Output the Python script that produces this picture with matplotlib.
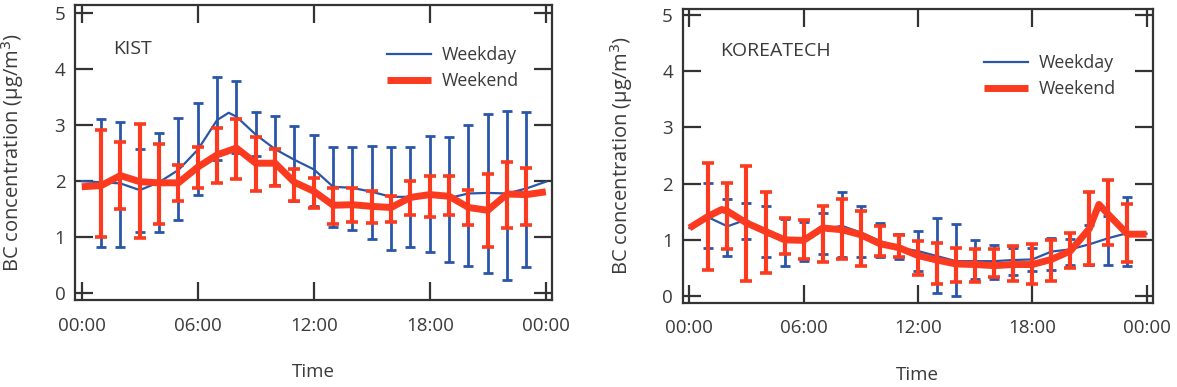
import numpy as np
import matplotlib
matplotlib.use('Agg')
import matplotlib.pyplot as plt

plt.rcParams['font.family'] = ['Open Sans', 'DejaVu Sans']
TXT = '#3a3a3a'
BLUE = '#2a56a8'
RED = '#fb3a1f'

tick_pos = [0, 6, 12, 18, 24]
tick_lab = ['00:00', '06:00', '12:00', '18:00', '00:00']
bar_hours = np.arange(1, 24)

# KIST
kist_wd_t = [0, 1, 2, 3, 4, 5, 6, 7, 7.6, 8, 9, 10, 11, 12, 13, 14, 15, 16, 17, 18, 19, 20, 21, 22, 23, 24]
kist_wd = [2.00, 1.98, 1.96, 1.84, 1.98, 2.20, 2.56, 3.09, 3.22, 3.15, 2.83, 2.57, 2.38, 2.21, 1.90,
           1.88, 1.81, 1.72, 1.72, 1.78, 1.70, 1.78, 1.79, 1.78, 1.87, 1.99]
kist_wd_lo = [0.83, 0.83, 1.09, 1.09, 1.30, 1.76, 2.37, 2.50, 2.45, 1.93, 1.65, 1.55, 1.18, 1.13, 0.96,
              0.77, 0.83, 0.74, 0.55, 0.49, 0.37, 0.24, 0.47]
kist_wd_hi = [3.11, 3.05, 2.57, 2.86, 3.13, 3.40, 3.86, 3.78, 3.23, 3.16, 2.99, 2.83, 2.61, 2.61, 2.62,
              2.61, 2.61, 2.81, 2.78, 3.01, 3.19, 3.26, 3.24]
kist_we_t = list(range(25))
kist_we = [1.90, 1.92, 2.10, 1.99, 1.97, 1.97, 2.25, 2.47, 2.59, 2.32, 2.32, 1.98, 1.82, 1.57, 1.58,
           1.55, 1.53, 1.71, 1.76, 1.73, 1.53, 1.48, 1.77, 1.76, 1.81]
kist_we_lo = [1.00, 1.51, 0.99, 1.23, 1.64, 1.87, 1.97, 2.04, 1.82, 1.92, 1.65, 1.52, 1.23, 1.28, 1.26,
              1.28, 1.40, 1.36, 1.39, 1.21, 0.83, 1.16, 1.22]
kist_we_hi = [2.91, 2.70, 3.02, 2.67, 2.29, 2.61, 2.95, 3.11, 2.78, 2.58, 2.21, 2.06, 1.88, 1.87, 1.82,
              1.74, 2.00, 2.09, 2.09, 1.85, 2.13, 2.34, 2.24]

# KOREATECH
kt_wd_t = list(range(25))
kt_wd = [1.21, 1.40, 1.24, 1.36, 1.10, 0.98, 0.96, 1.18, 1.25, 1.13, 0.98, 0.86, 0.80, 0.71, 0.62,
         0.62, 0.62, 0.64, 0.65, 0.79, 0.83, 0.92, 1.03, 1.12, 1.11]
kt_wd_lo = [0.86, 0.72, 1.02, 0.70, 0.53, 0.62, 0.74, 0.70, 0.70, 0.70, 0.65, 0.45, 0.06, 0.00, 0.30,
            0.30, 0.38, 0.44, 0.47, 0.56, 0.56, 0.56, 0.53]
kt_wd_hi = [2.01, 1.72, 1.66, 1.60, 1.37, 1.32, 1.48, 1.86, 1.61, 1.30, 1.10, 1.15, 1.38, 1.28, 1.00,
            0.90, 0.86, 0.86, 1.04, 1.02, 1.27, 1.42, 1.76]
kt_we_t = [0, 1, 1.7, 2, 3, 4, 5, 6, 7, 8, 9, 10, 11, 12, 13, 14, 15, 16, 17, 18, 19, 20, 21, 21.5, 22, 23, 24]
kt_we = [1.21, 1.42, 1.54, 1.51, 1.30, 1.15, 1.00, 0.99, 1.21, 1.18, 1.09, 0.93, 0.86, 0.72, 0.64,
         0.57, 0.56, 0.54, 0.56, 0.56, 0.65, 0.80, 1.20, 1.63, 1.45, 1.10, 1.10]
kt_we_lo = [0.47, 0.83, 0.27, 0.41, 0.74, 0.65, 0.60, 0.66, 0.54, 0.71, 0.70, 0.38, 0.21, 0.25, 0.24,
            0.33, 0.27, 0.21, 0.27, 0.50, 0.56, 0.90, 0.60]
kt_we_hi = [2.37, 2.02, 2.32, 1.86, 1.39, 1.35, 1.60, 1.73, 1.51, 1.24, 1.09, 0.98, 0.95, 0.86, 0.83,
            0.83, 0.89, 0.93, 0.99, 1.12, 1.85, 2.07, 1.63]

panels = [
    dict(name='KIST', pos=[0.0637, 0.2248, 0.4053, 0.762], leg=(0.635, 0.89),
         wd=(kist_wd_t, kist_wd, kist_wd_lo, kist_wd_hi),
         we=(kist_we_t, kist_we, kist_we_lo, kist_we_hi), ylim=(-0.12, 5.14)),
    dict(name='KOREATECH', pos=[0.58, 0.2178, 0.3993, 0.759], leg=(0.622, 0.877),
         wd=(kt_wd_t, kt_wd, kt_wd_lo, kt_wd_hi),
         we=(kt_we_t, kt_we, kt_we_lo, kt_we_hi), ylim=(-0.12, 5.11)),
]

fig = plt.figure(figsize=(11.77, 3.87), dpi=100)

for p in panels:
    ax = fig.add_axes(p['pos'])
    t, y, lo, hi = p['wd']
    lo, hi = np.array(lo), np.array(hi)
    l1, = ax.plot(t, y, color=BLUE, lw=1.6, zorder=2, label='Weekday')
    ax.errorbar(bar_hours, (lo + hi) / 2, yerr=(hi - lo) / 2, fmt='none', ecolor=BLUE,
                elinewidth=2.0, capsize=3.8, capthick=2.0, zorder=2)
    t, y, lo, hi = p['we']
    lo, hi = np.array(lo), np.array(hi)
    l2, = ax.plot(t, y, color=RED, lw=5.0, zorder=3, label='Weekend', solid_capstyle='butt')
    ax.errorbar(bar_hours, (lo + hi) / 2, yerr=(hi - lo) / 2, fmt='none', ecolor=RED,
                elinewidth=3.0, capsize=4.2, capthick=2.6, zorder=3)

    ax.set_xlim(-0.35, 24.32)
    ax.set_ylim(*p['ylim'])
    ax.set_xticks(tick_pos)
    ax.set_xticklabels(tick_lab)
    ax.set_yticks(range(6))
    ax.tick_params(direction='in', length=13, width=1.6, top=True, right=True,
                   labelsize=13.5, colors='#333333', labelcolor=TXT)
    ax.tick_params(axis='x', pad=12)
    ax.tick_params(axis='y', pad=7)
    for s in ax.spines.values():
        s.set_linewidth(1.6)
        s.set_color('#333333')

    ax.set_xlabel('Time', fontsize=13.5, color=TXT)
    ax.xaxis.set_label_coords(0.5, -0.245)
    ax.xaxis.label.set_va('center')
    ax.set_ylabel('BC concentration (μg/m$^3$)', fontsize=14.5, color=TXT)
    ax.yaxis.set_label_coords(-0.13, 0.5)
    ax.yaxis.label.set_va('center')

    ax.text(1.6, 4.36, p['name'], fontsize=14, color=TXT, va='center', ha='left')
    ax.legend(handles=[l1, l2], loc='upper left', bbox_to_anchor=p['leg'], frameon=False,
              borderpad=0, handlelength=2.5, handletextpad=0.6, labelspacing=0.45,
              fontsize=12.8, labelcolor=TXT)

fig.savefig('out.png', dpi=100)
